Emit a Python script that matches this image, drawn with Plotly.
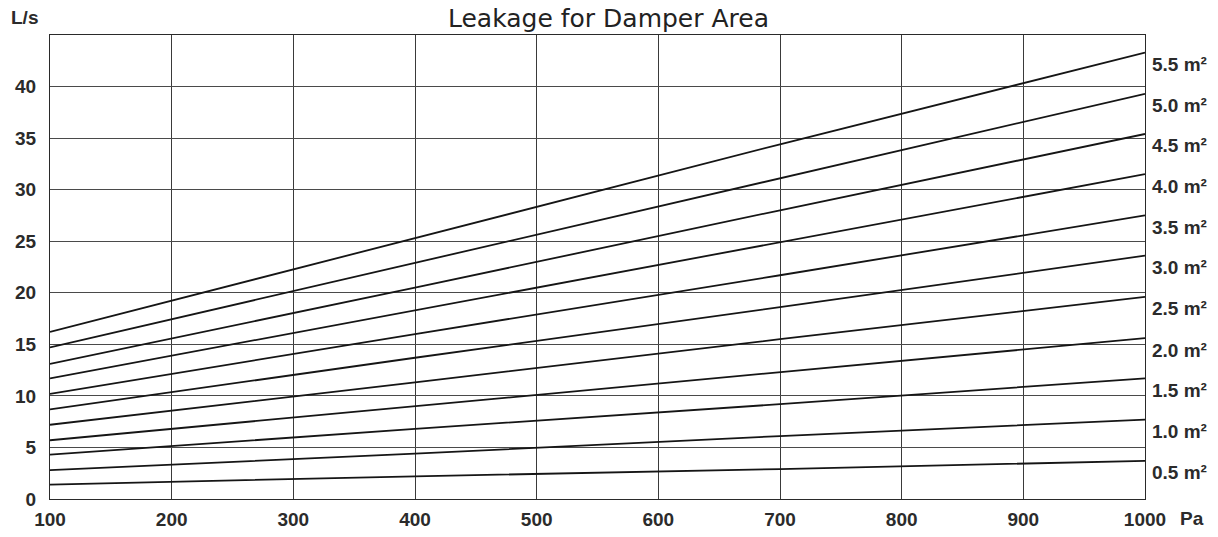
import plotly.graph_objects as go

# Pressure (Pa) at which each curve was read
pressure = [100, 400, 700, 1000]

# Leakage (L/s) per damper area
areas = ["0.5", "1.0", "1.5", "2.0", "2.5", "3.0", "3.5", "4.0", "4.5", "5.0", "5.5"]
leak_05 = [1.4, 2.2, 2.9, 3.7]
leak_10 = [2.8, 4.4, 6.1, 7.7]
leak_15 = [4.3, 6.8, 9.2, 11.7]
leak_20 = [5.7, 9.0, 12.3, 15.6]
leak_25 = [7.2, 11.3, 15.5, 19.6]
leak_30 = [8.7, 13.7, 18.6, 23.6]
leak_35 = [10.2, 16.0, 21.7, 27.5]
leak_40 = [11.7, 18.3, 24.9, 31.5]
leak_45 = [13.1, 20.5, 28.0, 35.4]
leak_50 = [14.7, 22.9, 31.1, 39.3]
leak_55 = [16.2, 25.3, 34.4, 43.3]
series = [leak_05, leak_10, leak_15, leak_20, leak_25, leak_30,
          leak_35, leak_40, leak_45, leak_50, leak_55]

x_ticks = [100, 200, 300, 400, 500, 600, 700, 800, 900, 1000]
y_ticks = [0, 5, 10, 15, 20, 25, 30, 35, 40]

TXT = "#2b2b2b"
BOLD = dict(family="Liberation Sans, Arial, sans-serif", size=19, color=TXT)

fig = go.Figure()
for name, vals in zip(areas, series):
    fig.add_trace(go.Scatter(x=pressure, y=vals, mode="lines", name=name + " m²",
                             line=dict(color="#151515", width=1.8),
                             showlegend=False, hoverinfo="skip"))
    fig.add_annotation(x=pressure[-1], y=vals[-1], xref="x", yref="y",
                       text="<b>" + name + " m²</b>", showarrow=False,
                       xanchor="left", yanchor="middle", xshift=5, yshift=-12,
                       font=BOLD)

fig.add_annotation(x=1, y=-0.043, xref="paper", yref="paper", text="<b>Pa</b>",
                   showarrow=False, xanchor="left", yanchor="middle", xshift=33, font=BOLD)
fig.add_annotation(x=0, y=1.0, xref="paper", yref="paper", text="<b>L/s</b>",
                   showarrow=False, xanchor="center", yanchor="bottom", xshift=-26, yshift=5,
                   font=BOLD)
fig.add_annotation(x=0.5096, y=1.0345, xref="paper", yref="paper",
                   text="Leakage for Damper Area", showarrow=False,
                   xanchor="center", yanchor="middle",
                   font=dict(family="DejaVu Sans", size=25, color="#222222"))

fig.update_xaxes(range=[100, 1000], tickvals=x_ticks,
                 ticktext=["<b>%d</b>" % v for v in x_ticks],
                 tickfont=BOLD, showgrid=True, gridcolor="#3a3a3a", gridwidth=1,
                 showline=True, linecolor="#2a2a2a", linewidth=1.2, mirror=True,
                 zeroline=False, ticks="", ticklabelstandoff=3, automargin=False)
fig.update_yaxes(range=[0, 45], tickvals=y_ticks,
                 ticktext=["<b>%d</b>" % v for v in y_ticks],
                 tickfont=BOLD, showgrid=True, gridcolor="#4a4a4a", gridwidth=1,
                 showline=True, linecolor="#2a2a2a", linewidth=1.2, mirror=True,
                 zeroline=False, ticks="", ticklabelstandoff=9, automargin=False)

# the page adds an 8px body margin, so the figure is offset by (8, 8)
fig.update_layout(width=1210, height=529, paper_bgcolor="white", plot_bgcolor="white",
                  margin=dict(l=42, r=73, t=27, b=38, autoexpand=False), showlegend=False)

fig.write_html("out.html")
